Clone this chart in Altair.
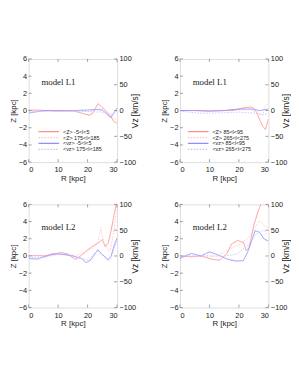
import altair as alt
import pandas as pd

# ---------------- data ----------------
# Panel A: model L1, l = -5..5 / 175..185
a_zs_R = [0, 3, 6, 9, 12, 15, 17, 19, 20.5, 21.5, 22.5, 23.5, 25, 26, 27, 28, 29, 30]
a_zs_Z = [0.05, 0.05, 0.0, -0.05, -0.05, -0.05, -0.2, -0.4, -0.55, -0.4, 0.2, 0.8, 0.4, 0.0, -0.4, -0.8, -1.3, -1.5]
a_zd_R = [0, 5, 10, 15, 20, 22, 24, 26, 28, 30]
a_zd_Z = [0.0, 0.0, -0.05, 0.0, -0.1, 0.0, 0.3, 0.1, -0.7, -1.2]
a_vs_R = [0, 2, 4, 6, 10, 15, 20, 23, 25, 26, 27, 28, 29, 30]
a_vs_V = [-5, -3, -1, 0, 0, 0, 1, 2, 1, -4, -10, -13, -4, 5]
a_vd_R = [0, 5, 10, 15, 20, 25, 27, 28, 30]
a_vd_V = [-2, -2, -1, -1, -2, -3, -6, -8, -2]

# Panel B: model L1, l = 85..95 / 265..275
b_zs_R = [0, 5, 10, 15, 18, 20, 22, 24, 25, 26, 27, 28, 29, 30]
b_zs_Z = [0.0, 0.0, -0.05, 0.0, 0.0, 0.2, 0.35, 0.4, 0.3, -0.2, -1.0, -1.8, -2.2, -1.0]
b_zd_R = [0, 5, 10, 15, 20, 24, 26, 28, 29, 30]
b_zd_Z = [0.0, 0.0, 0.0, 0.0, 0.05, 0.1, -0.3, -0.5, 0.5, 0.9]
b_vs_R = [0, 5, 10, 15, 18, 21, 24, 26, 27, 29, 30]
b_vs_V = [0, 0, -1, 0, 2, 3, 3, 1, 0, 2, 3]
b_vd_R = [0, 3, 6, 10, 15, 20, 25, 27, 28, 30]
b_vd_V = [-1, -3, -5, -5, -4, -3, -5, -7, -8, -6]

# Panel C: model L2, l = -5..5 / 175..185
c_zs_R = [0, 3, 6, 9, 11, 13, 15, 16, 18, 20, 22, 24, 25, 26, 27, 28, 29, 30]
c_zs_Z = [0.05, 0.05, 0.0, 0.25, 0.4, 0.25, -0.2, -0.4, 0.1, 0.7, 1.2, 1.6, 1.9, 1.1, 1.5, 3.0, 4.8, 6.5]
c_zd_R = [0, 5, 10, 13, 16, 18, 20, 22, 23.5, 24.5, 25.5, 26.5, 27.5, 28.5, 29.5, 30]
c_zd_Z = [0.0, 0.0, 0.3, 0.3, 0.0, 0.3, 0.6, 1.0, 1.5, 3.3, 1.6, 1.0, 0.5, 2.0, 4.5, 6.5]
c_vs_R = [0, 3, 5, 8, 12, 15, 18, 19.5, 21, 23.5, 25, 27, 28, 29, 30]
c_vs_V = [-5, -6, -2, 4, 3, 0, -5, -13, -8, 12, 3, -7, 0, 20, 35]
c_vd_R = [0, 5, 10, 15, 20, 23.5, 25, 27, 28, 29, 30]
c_vd_V = [-3, -3, 3, 0, -8, 10, 0, -10, -5, 15, 30]

# Panel D: model L2, l = 85..95 / 265..275
d_zs_R = [0, 4, 7, 11, 13.5, 16, 17.5, 19.5, 21.5, 22.5, 23.5, 25, 26.5, 28, 30]
d_zs_Z = [0.0, -0.1, 0.0, -0.4, -0.5, 0.3, 1.4, 1.8, 1.6, 0.6, 1.0, 3.5, 5.2, 6.5, 7.0]
d_zd_R = [0, 7, 12.5, 17, 20.5, 23.5, 27, 28.5, 30]
d_zd_Z = [0.0, 0.0, 0.0, 0.85, 1.4, 2.2, 4.1, 3.5, 3.3]
d_vs_R = [0, 2.5, 4, 7, 10, 12.5, 16, 19, 21.5, 23, 25.5, 27, 28.5, 30]
d_vs_V = [-5, 2, 5, 0, 8, 3, -6, -10, -9, 8, 49, 46, 33, 29]
d_vd_R = [0, 7, 15, 19, 23, 26, 28.5, 30]
d_vd_V = [0, 0, 0, 3, 20, 43, 50, 40]

z_ticks = [-6, -4, -2, 0, 2, 4, 6]
v_ticks = [-100, -50, 0, 50, 100]
r_ticks = [0, 10, 20, 30]

legA = ["<Z> -5<l<5", "<Z> 175<l<185", "<vz> -5<l<5", "<vz> 175<l<185"]
legB = ["<Z> 85<l<95", "<Z> 265<l<275", "<vz> 85<l<95", "<vz> 265<l<275"]

# ---------------- styling ----------------
W, H = 90, 105
RED, RED2 = "#ff8f8f", "#ffc2c2"
BLUE, BLUE2 = "#8f8fff", "#c4c4ff"
FONT = "Liberation Sans"
TXT = "#222222"

xscale = alt.Scale(domain=[0, 30], nice=False)
zscale = alt.Scale(domain=[-6, 6], nice=False)
vscale = alt.Scale(domain=[-100, 100], nice=False)

xaxis = alt.Axis(values=r_ticks, title="R [kpc]", tickSize=0, domain=False, labelOverlap=False,
                 grid=False, labelFont=FONT, labelFontSize=7.5, labelColor=TXT,
                 labelPadding=4, titleFont=FONT, titleFontSize=8,
                 titleFontWeight="normal", titleColor=TXT, titlePadding=1)
zaxis = alt.Axis(values=z_ticks, title="Z [kpc]", orient="left", tickSize=0, domain=False, grid=False,
                 labelOverlap=False, labelFlush=False,
                 labelFont=FONT, labelFontSize=7.5, labelColor=TXT, labelPadding=2,
                 titleFont=FONT, titleFontSize=8, titleFontWeight="normal", titleColor=TXT,
                 titlePadding=1)
vaxis = alt.Axis(values=v_ticks, title="Vz [km/s]", orient="right", tickSize=0, domain=False, grid=False,
                 labelOverlap=False, labelFlush=False,
                 labelFont=FONT, labelFontSize=7.5, labelColor=TXT, labelPadding=2,
                 titleFont=FONT, titleFontSize=8.5, titleFontWeight="normal", titleColor=TXT,
                 titlePadding=4, titleAngle=270)


def line(R, vals, field, color, dash, scale, axis):
    df = pd.DataFrame({"R": R, field: vals})
    m = alt.Chart(df).mark_line(color=color, strokeWidth=0.9, clip=True,
                                strokeDash=dash if dash else [1, 0])
    return m.encode(x=alt.X("R:Q", scale=xscale, axis=xaxis),
                    y=alt.Y(f"{field}:Q", scale=scale, axis=axis))


def ticks_y(vals, field, scale, axis, left):
    df = pd.DataFrame({field: vals})
    x0, x1 = (0, 3) if left else (W - 3, W)
    return alt.Chart(df).mark_rule(color="#777777", strokeWidth=0.7).encode(
        x=alt.value(x0), x2=alt.value(x1), y=alt.Y(f"{field}:Q", scale=scale, axis=axis))


def ticks_x():
    df = pd.DataFrame({"R": r_ticks})
    bot = alt.Chart(df).mark_rule(color="#777777", strokeWidth=0.7).encode(
        x=alt.X("R:Q", scale=xscale, axis=xaxis), y=alt.value(H - 3), y2=alt.value(H))
    top = alt.Chart(df).mark_rule(color="#777777", strokeWidth=0.7).encode(
        x=alt.X("R:Q", scale=xscale, axis=xaxis), y=alt.value(0), y2=alt.value(3))
    return [bot, top]


def legend(labels, xl):
    layers = []
    cols = [(RED, None), (RED2, [1.5, 1.5]), (BLUE, None), (BLUE2, [1.5, 1.5])]
    for i, (lab, (c, d)) in enumerate(zip(labels, cols)):
        yy = 74 + i * 6
        df = pd.DataFrame({"t": [lab]})
        layers.append(alt.Chart(df).mark_rule(color=c, strokeWidth=1.2, strokeDash=d if d else [1, 0]).encode(
            x=alt.value(xl), x2=alt.value(xl + 21), y=alt.value(yy)))
        layers.append(alt.Chart(df).mark_text(align="left", baseline="middle", font=FONT, fontSize=5.5,
                                              color=TXT).encode(
            x=alt.value(xl + 25), y=alt.value(yy), text="t:N"))
    return layers


def panel(zs, zd, vs, vd, title, labels=None, xl=10):
    left = alt.layer(
        line(zs[0], zs[1], "Z", RED, None, zscale, zaxis),
        line(zd[0], zd[1], "Z", RED2, [1.5, 1.5], zscale, zaxis),
        ticks_y(z_ticks, "Z", zscale, zaxis, True),
        *ticks_x(),
    )
    right = alt.layer(
        line(vs[0], vs[1], "V", BLUE, None, vscale, vaxis),
        line(vd[0], vd[1], "V", BLUE2, [1.5, 1.5], vscale, vaxis),
        ticks_y(v_ticks, "V", vscale, vaxis, False),
    )
    extra = [alt.Chart(pd.DataFrame({"t": [title]})).mark_text(
        align="left", baseline="middle", font="Liberation Serif", fontSize=9, color=TXT).encode(
        x=alt.value(13), y=alt.value(23), text="t:N")]
    if labels:
        extra += legend(labels, xl)
    return alt.layer(left, right, *extra).resolve_scale(y="independent").properties(width=W, height=H)


pA = panel((a_zs_R, a_zs_Z), (a_zd_R, a_zd_Z), (a_vs_R, a_vs_V), (a_vd_R, a_vd_V), "model L1", legA, 10)
pB = panel((b_zs_R, b_zs_Z), (b_zd_R, b_zd_Z), (b_vs_R, b_vs_V), (b_vd_R, b_vd_V), "model L1", legB, 8)
pC = panel((c_zs_R, c_zs_Z), (c_zd_R, c_zd_Z), (c_vs_R, c_vs_V), (c_vd_R, c_vd_V), "model L2")
pD = panel((d_zs_R, d_zs_Z), (d_zd_R, d_zd_Z), (d_vs_R, d_vs_V), (d_vd_R, d_vd_V), "model L2")

chart = alt.concat(pA, pB, pC, pD, columns=2, spacing={"row": 43, "column": 64}, bounds="flush").properties(
    padding={"left": 0, "top": 44, "right": 0, "bottom": 0}
).configure_view(stroke="#888888", strokeWidth=0.8).configure(background="white")

chart.save("out.html", embed_options={"renderer": "svg", "actions": False})
